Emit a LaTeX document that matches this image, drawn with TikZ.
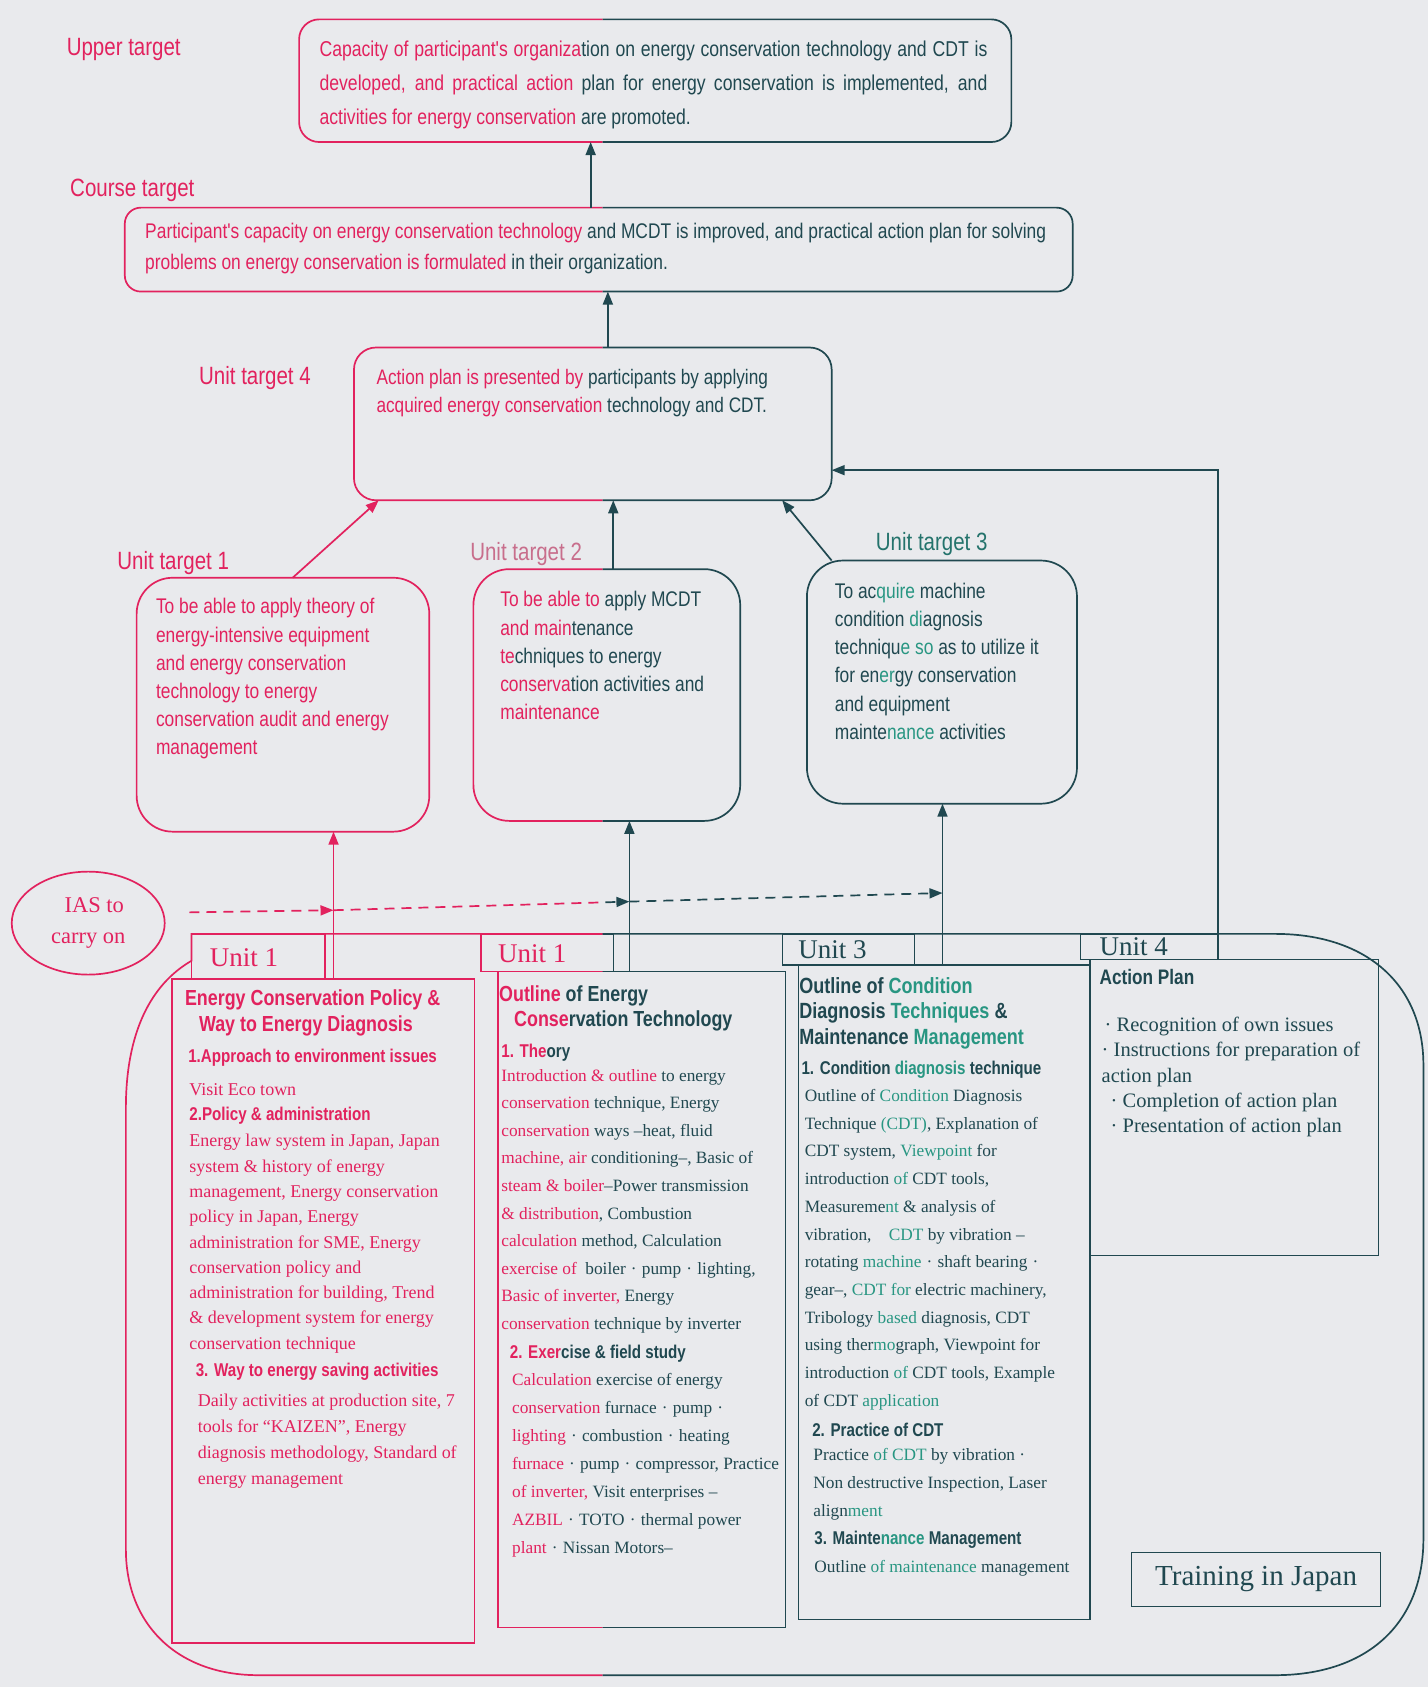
\documentclass[tikz,border=0pt]{standalone}
\usepackage{fontspec}
\setmainfont{Liberation Serif}
\newfontfamily\sansc[FakeStretch=0.82]{Liberation Sans}
\usetikzlibrary{arrows.meta,shapes.geometric,fit,calc}
\definecolor{pinkc}{RGB}{226,34,94}
\definecolor{darkc}{RGB}{32,72,80}
\definecolor{greenc}{RGB}{40,150,130}
\definecolor{bgc}{RGB}{233,234,237}
\definecolor{palepink}{RGB}{200,110,140}
\newcommand{\splitx}{560}
\newcommand{\duo}[2][]{%
 \begin{scope}\clip (0,0) rectangle (\splitx,1568); \draw[pinkc,#1] #2; \end{scope}%
 \begin{scope}\clip (\splitx,0) rectangle (1327,1568); \draw[darkc,#1] #2; \end{scope}}
\newcommand{\pinktxt}[1]{\textcolor{pinkc}{#1}}
\newcommand{\greentxt}[1]{\textcolor{greenc}{#1}}
\newcommand{\ndot}{\hspace{0.3em}·\hspace{0.3em}}
\begin{document}
\begin{tikzpicture}[x=1.0761pt,y=-1.0761pt, line width=1.7pt,
 every node/.style={inner sep=0pt, outer sep=0pt},
 arr/.style={-{Triangle[length=13pt,width=10pt]}},
 dsh/.style={dash pattern=on 10pt off 7pt},
 lbl/.style={font={\sansc\fontsize{25}{28}\selectfont}},
 bigtxt/.style={anchor=west, align=left, text=darkc},
 uttxt/.style={anchor=west, align=left, font={\sansc\fontsize{21.2}{28.2}\selectfont}},
 hd/.style={anchor=west, align=left, font={\sansc\bfseries\fontsize{21.8}{25.5}\selectfont}},
 subh/.style={anchor=west, font={\sansc\bfseries\fontsize{18.5}{22}\selectfont}},
 bod/.style={anchor=west, align=left, font={\fontsize{17.3}{27.5}\selectfont}},
 unitlbl/.style={anchor=west, font={\fontsize{27}{30}\selectfont}},
 boxfit/.style={inner sep=0pt},
]
\fill[bgc] (0,0) rectangle (1327,1568);
\useasboundingbox (0,0) rectangle (1327,1568);

% ---------- boxes ----------
\node[boxfit, fit={(278,18)(940,132)}] (upperB) {};
\node[boxfit, fit={(116,193)(997,271)}] (courseB) {};
\node[boxfit, fit={(329,323)(773,465)}] (ut4B) {};
\node[boxfit, fit={(127,537)(399,773)}] (ut1B) {};
\node[boxfit, fit={(440,529)(688,763)}] (ut2B) {};
\node[boxfit, fit={(750,521)(1001,747)}] (ut3B) {};
\node[boxfit, fit={(160,910)(441,1527)}] (col1B) {};
\node[boxfit, fit={(463,903)(730,1513)}] (col2B) {};
\node[boxfit, fit={(742,897)(1013,1505)}] (col3B) {};
\node[boxfit, fit={(1013,892)(1281,1167)}] (col4B) {};
\node[boxfit, fit={(178,868)(302,910)}] (h1B) {};
\node[boxfit, fit={(447,868)(570,903)}] (h2B) {};
\node[boxfit, fit={(727,868)(850,897)}] (h3B) {};
\node[boxfit, fit={(1004,868)(1132,892)}] (h4B) {};

\duo[rounded corners=20pt]{(upperB.north west) rectangle (upperB.south east)}
\duo[rounded corners=16pt]{(courseB.north west) rectangle (courseB.south east)}
\duo[rounded corners=22pt]{(ut4B.north west) rectangle (ut4B.south east)}
\draw[pinkc, rounded corners=36pt] (ut1B.north west) rectangle (ut1B.south east);
\duo[rounded corners=36pt]{(ut2B.north west) rectangle (ut2B.south east)}
\draw[darkc, rounded corners=36pt] (ut3B.north west) rectangle (ut3B.south east);

% container (Training in Japan)
\duo{(117,1440) -- (117,1030) .. controls (117,960) and (140,915) .. (178,893) -- (178,868) -- (1185,868) .. controls (1270,868) and (1323,915) .. (1323,990) -- (1323,1430) .. controls (1323,1510) and (1270,1557) .. (1185,1557) -- (240,1557) .. controls (165,1557) and (117,1510) .. (117,1440) -- cycle}

\draw[pinkc, line width=1.3pt] (h1B.north west) rectangle (h1B.south east);
\duo[line width=1.3pt]{(h2B.north west) rectangle (h2B.south east)}
\draw[darkc, line width=1.3pt] (h3B.north west) rectangle (h3B.south east);
\draw[darkc, line width=1.3pt] (h4B.north west) rectangle (h4B.south east);
\draw[pinkc, line width=1.3pt] (col1B.north west) rectangle (col1B.south east);
\duo[line width=1.3pt]{(col2B.north west) rectangle (col2B.south east)}
\draw[darkc, line width=1.3pt] (col3B.north west) rectangle (col3B.south east);
\draw[darkc, line width=1.3pt] (col4B.north west) rectangle (col4B.south east);

% ---------- labels ----------
\node[lbl, text=pinkc] (lupper) at (115,46) {Upper target};
\node[lbl, text=pinkc] (lcourse) at (123,177) {Course target};
\node[lbl, text=pinkc] (lut4) at (237,351) {Unit target 4};
\node[lbl, text=pinkc] (lut1) at (161,523) {Unit target 1};
\node[lbl, text=palepink] (lut2) at (489,515) {Unit target 2};
\node[lbl, text=greenc!55!darkc] (lut3) at (866,506) {Unit target 3};

% ---------- box texts ----------
\node[bigtxt, font={\sansc\fontsize{21.5}{34}\selectfont}] (upperT) at (297,78.5)
 {\makebox[668pt][s]{\pinktxt{Capacity of participant's organiza}tion on energy conservation technology and CDT is}\\
  \makebox[668pt][s]{\pinktxt{developed, and practical action} plan for energy conservation is implemented, and}\\
  \pinktxt{activities for energy conservation} are promoted.};
\node[bigtxt, font={\sansc\fontsize{21.2}{31}\selectfont}] (courseT) at (135,231)
 {\pinktxt{Participant's capacity on energy conservation technology} and MCDT is improved, and practical action plan for solving\\
  \pinktxt{problems on energy conservation is formulated} in their organization.};
\node[bigtxt, font={\sansc\fontsize{21}{28}\selectfont}] (ut4T) at (350,365)
 {\pinktxt{Action plan is presented by} participants by applying\\
  \pinktxt{acquired energy conservation} technology and CDT.};
\node[uttxt, text=pinkc] (ut1T) at (145,631)
 {To be able to apply theory of\\energy-intensive equipment\\and energy conservation\\technology to energy\\conservation audit and energy\\management};
\node[uttxt, text=darkc] (ut2T) at (465,609.5)
 {\pinktxt{To be able to} apply MCDT\\\pinktxt{and main}tenance\\\pinktxt{te}chniques to energy\\\pinktxt{conserva}tion activities and\\\pinktxt{maintenance}};
\node[uttxt, text=darkc] (ut3T) at (776,614.5)
 {To ac\greentxt{quire} machine\\condition \greentxt{di}agnosis\\techniqu\greentxt{e so} as to utilize it\\for en\greentxt{er}gy conservation\\and equipment\\mainte\greentxt{nance} activities};

% ---------- IAS ellipse ----------
\node[draw=pinkc, ellipse, minimum width=153pt, minimum height=103pt, align=center, text=pinkc,
 font={\fontsize{22.5}{31}\selectfont}] (ias) at (82,858) {\hspace*{12pt}IAS to\\carry on};

% ---------- unit headers ----------
\node[unitlbl, text=pinkc] (u1) at (195,890) {Unit 1};
\node[unitlbl, text=pinkc] (u2) at (463,886) {Unit 1};
\node[unitlbl, text=darkc] (u3) at (742,883) {Unit 3};
\node[unitlbl, text=darkc] (u4) at (1022,880) {Unit 4};

% ---------- column 1 ----------
\node[hd, text=pinkc] (c1h) at (172,941.5) {Energy Conservation Policy \&\\\hspace*{14pt}Way to Energy Diagnosis};
\node[subh, text=pinkc] (c1s1) at (175,983) {1.Approach to environment issues};
\node[bod, text=pinkc, font={\fontsize{18}{25.3}\selectfont}] (c1v) at (176,1013) {Visit Eco town};
\node[subh, text=pinkc] (c1s2) at (176,1037) {2.Policy \& administration};
\node[bod, text=pinkc, font={\fontsize{18}{25.3}\selectfont}] (c1b1) at (176,1156)
 {Energy law system in Japan, Japan\\system \& history of energy\\management, Energy conservation\\policy in Japan, Energy\\administration for SME, Energy\\conservation policy and\\administration for building, Trend\\\& development system for energy\\conservation technique};
\node[subh, text=pinkc] (c1s3) at (182,1275) {3. Way to energy saving activities};
\node[bod, text=pinkc, font={\fontsize{18}{26.2}\selectfont}] (c1b2) at (184,1339.5)
 {Daily activities at production site, 7\\tools for ``KAIZEN'', Energy\\diagnosis methodology, Standard of\\energy management};

% ---------- column 2 ----------
\node[hd, text=darkc] (c2h) at (464,937.5) {\pinktxt{Outline} of Energy\\\hspace*{15pt}\pinktxt{Conse}rvation Technology};
\node[subh, text=darkc] (c2s1) at (466,978) {\pinktxt{1. The}ory};
\node[bod, text=darkc, font={\fontsize{17.3}{27.6}\selectfont}] (c2b1) at (466,1116.5)
 {\pinktxt{Introduction \& outline} to energy\\
  \pinktxt{conservation} technique, Energy\\
  \pinktxt{conservation} ways –heat, fluid\\
  \pinktxt{machine, air} conditioning–, Basic of\\
  \pinktxt{steam \& boiler}–Power transmission\\
  \pinktxt{\& distribution}, Combustion\\
  \pinktxt{calculation} method, Calculation\\
  \pinktxt{exercise of}\ \ boiler\ndot pump\ndot lighting,\\
  \pinktxt{Basic of inverter,} Energy\\
  \pinktxt{conservation} technique by inverter};
\node[subh, text=darkc] (c2s2) at (474,1258) {\pinktxt{2. Exer}cise \& field study};
\node[bod, text=darkc, font={\fontsize{17.3}{28}\selectfont}] (c2b2) at (476,1362)
 {\pinktxt{Calculation} exercise of energy\\
  \pinktxt{conservation} furnace\ndot pump\ndot\\
  \pinktxt{lighting}\ndot combustion\ndot heating\\
  \pinktxt{furnace}\ndot pump\ndot compressor, Practice\\
  \pinktxt{of inverter,} Visit enterprises –\\
  \pinktxt{AZBIL}\ndot TOTO\ndot thermal power\\
  \pinktxt{plant}\ndot Nissan Motors–};

% ---------- column 3 ----------
\node[hd, text=darkc, font={\sansc\bfseries\fontsize{22}{25.5}\selectfont}] (c3h) at (743,941.5)
 {Outline of \greentxt{Condition}\\Diagnosis \greentxt{Techniques} \&\\Maintenance \greentxt{Management}};
\node[subh, text=darkc] (c3s1) at (745,994) {1. Condition \greentxt{diagnosis} technique};
\node[bod, text=darkc, font={\fontsize{17.3}{27.7}\selectfont}] (c3b1) at (748,1161.5)
 {Outline of \greentxt{Condition} Diagnosis\\
  Technique \greentxt{(CDT)}, Explanation of\\
  CDT system, \greentxt{Viewpoint} for\\
  introduction \greentxt{of} CDT tools,\\
  Measureme\greentxt{nt} \& analysis of\\
  vibration,\quad \greentxt{CDT} by vibration –\\
  rotating \greentxt{machine}\ndot shaft bearing\ndot\\
  gear–, \greentxt{CDT for} electric machinery,\\
  Tribology \greentxt{based} diagnosis, CDT\\
  using ther\greentxt{mo}graph, Viewpoint for\\
  introduction \greentxt{of} CDT tools, Example\\
  of CDT \greentxt{application}};
\node[subh, text=darkc] (c3s2) at (755,1329) {2. Practice of CDT};
\node[bod, text=darkc, font={\fontsize{17.3}{28}\selectfont}] (c3b2) at (756,1380)
 {Practice \greentxt{of CDT} by vibration ·\\Non destructive Inspection, Laser\\align\greentxt{ment}};
\node[subh, text=darkc] (c3s3) at (757,1431) {3. Mainte\greentxt{nance} Management};
\node[bod, text=darkc] (c3b3) at (757,1458) {Outline \greentxt{of maintenance} management};

% ---------- column 4 ----------
\node[subh, text=darkc, font={\sansc\bfseries\fontsize{21}{22}\selectfont}] (c4s) at (1022,908) {Action Plan};
\node[bod, text=darkc, font={\fontsize{20.5}{25.3}\selectfont}] (c4b) at (1024,1001)
 {\hspace*{3pt}· Recognition of own issues\\· Instructions for preparation of\\action plan\\\hspace*{9pt}· Completion of action plan\\\hspace*{9pt}· Presentation of action plan};

\node[draw=darkc, line width=1.3pt, minimum width=248.6pt, minimum height=53.8pt, text=darkc,
 font={\fontsize{29}{30}\selectfont}] (tij) at (1167.5,1468) {Training in Japan};

% ---------- connectors ----------
\coordinate (a0) at (549,0);
\coordinate (a1) at (565,0);
\coordinate (a2) at (570,0);
\coordinate (a3) at (727,0);
\coordinate (b1) at (310,0);
\coordinate (b2) at (585,0);
\coordinate (b3) at (876,0);
\coordinate (j) at (0,437);
\draw[arr, darkc] (courseB.north -| a0) -- (upperB.south -| a0);
\draw[arr, darkc] (ut4B.north -| a1) -- (courseB.south -| a1);
\draw[arr, pinkc] ($(ut1B.north)+(9,0)$) -- ($(ut4B.south west)+(23,0)$);
\draw[arr, darkc] (ut2B.north -| a2) -- (ut4B.south -| a2);
\draw[arr, darkc] ($(ut3B.north west)+(23,0)$) -- (ut4B.south -| a3);
\draw[arr, darkc] (h4B.north east) -- (h4B.north east |- j) -- (ut4B.east |- j);
\draw[arr, pinkc] (col1B.north -| b1) -- (ut1B.south -| b1);
\draw[arr, darkc] (col2B.north -| b2) -- (ut2B.south -| b2);
\draw[arr, darkc] (col3B.north -| b3) -- (ut3B.south -| b3);

\coordinate (d0) at ($(ias.east)+(23,-10)$);
\coordinate (d1) at (310,846);
\coordinate (d2) at (585,838);
\coordinate (d3) at (876,830);
\draw[arr, dsh, pinkc] (d0) -- (d1);
\duo[arr, dsh]{(d1) -- (d2)}
\draw[arr, dsh, darkc] (d2) -- (d3);
\end{tikzpicture}
\end{document}
